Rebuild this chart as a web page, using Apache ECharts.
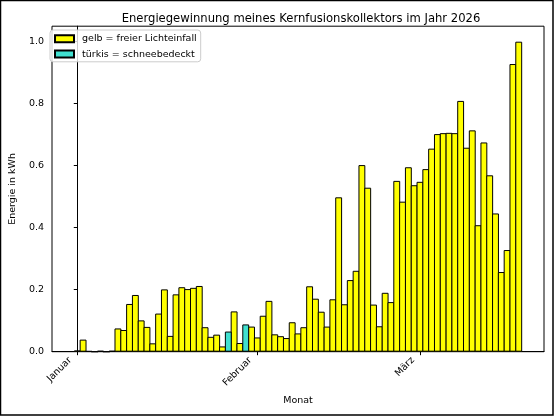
<!DOCTYPE html>
<html>
<head>
<meta charset="utf-8">
<script src="https://cdn.jsdelivr.net/npm/echarts@6/dist/echarts.min.js"></script>
<style>
  html, body { margin: 0; padding: 0; background: #fff; }
  #chart { width: 554px; height: 416px; }
</style>
</head>
<body>
<div id="chart"></div>
<script>
// daily yield, 1 Jan .. 18 Mar 2026 (index 0 = 1 Jan)
const energy = [
  0.004, 0.039, 0.002, 0.000, 0.003, 0.000, 0.003, 0.075, 0.070, 0.154,
  0.183, 0.101, 0.080, 0.027, 0.123, 0.201, 0.051, 0.185, 0.208, 0.202,
  0.206, 0.212, 0.079, 0.048, 0.055, 0.017, 0.065, 0.130, 0.028, 0.088,
  0.081, 0.046, 0.116, 0.164, 0.056, 0.050, 0.044, 0.095, 0.059, 0.079,
  0.211, 0.171, 0.129, 0.081, 0.169, 0.498, 0.153, 0.231, 0.261, 0.602,
  0.529, 0.152, 0.082, 0.190, 0.160, 0.551, 0.484, 0.595, 0.537, 0.548,
  0.589, 0.655, 0.702, 0.705, 0.706, 0.705, 0.809, 0.658, 0.714, 0.408,
  0.675, 0.569, 0.446, 0.257, 0.328, 0.928, 1.000
]
// days on which the collector was covered in snow
const snowDays = [26, 29]
const monthTicks = [0, 31, 59]
const monthLabels = ['Januar', 'Februar', 'März']
const yTicks = [0, 0.2, 0.4, 0.6, 0.8, 1.0]

const font = 'DejaVu Sans'

const freeData = []
const snowData = []
energy.forEach((v, i) => {
  if (snowDays.includes(i)) snowData.push([i, v])
  else freeData.push([i, v])
})

const chart = echarts.init(document.getElementById('chart'), null, { renderer: 'canvas' })

// echarts draws the bar border inside the bar, so widen by the border
// width to get one shared edge between neighbouring days
const barStyle = {
  type: 'bar',
  stack: 'day',
  barWidth: '100%',
  barMinWidth: 6.88
}

chart.setOption({
  animation: false,
  backgroundColor: '#fff',
  textStyle: { fontFamily: font },
  title: {
    text: 'Energiegewinnung meines Kernfusionskollektors im Jahr 2026',
    left: 296,
    textAlign: 'center',
    top: 8,
    textStyle: { fontFamily: font, fontSize: 11.6, fontWeight: 'normal', color: '#000' }
  },
  legend: {
    orient: 'vertical',
    left: 50,
    top: 30,
    padding: [3, 4, 2, 4],
    itemGap: 3.8,
    itemWidth: 19,
    itemHeight: 7,
    icon: 'rect',
    borderColor: '#cccccc',
    borderWidth: 1,
    borderRadius: 3,
    backgroundColor: 'rgba(255,255,255,0.8)',
    textStyle: { fontFamily: font, fontSize: 9.5, color: '#000', lineHeight: 11.5, padding: [0, 0, 0, 3] },
    data: ['gelb = freier Lichteinfall', 'türkis = schneebedeckt']
  },
  grid: {
    left: 45.7,
    right: 10,
    top: 26.2,
    bottom: 64.3,
    show: true,
    borderColor: '#000',
    borderWidth: 1,
    backgroundColor: 'transparent'
  },
  xAxis: {
    type: 'value',
    min: -4.35,
    max: 80.35,
    name: 'Monat',
    nameLocation: 'middle',
    nameGap: 42,
    nameTextStyle: { fontFamily: font, fontSize: 9.5, color: '#000' },
    splitLine: { show: false },
    axisLine: { show: true, lineStyle: { color: '#000', width: 1 } },
    axisTick: { show: true, length: 3.5, customValues: monthTicks, lineStyle: { color: '#000' } },
    axisLabel: {
      customValues: monthTicks,
      rotate: 45,
      margin: 0,
      padding: [0, 10, 0, 0],
      fontFamily: font,
      fontSize: 9.5,
      color: '#000',
      formatter: v => monthLabels[monthTicks.indexOf(v)] || ''
    }
  },
  yAxis: {
    type: 'value',
    min: 0,
    max: 1.05,
    name: 'Energie in kWh',
    nameLocation: 'middle',
    nameGap: 28,
    nameRotate: 90,
    nameTextStyle: { fontFamily: font, fontSize: 9.5, color: '#000' },
    splitLine: { show: false },
    axisLine: { show: true, lineStyle: { color: '#000', width: 1 } },
    axisTick: { show: true, length: 3.5, customValues: yTicks, lineStyle: { color: '#000' } },
    axisLabel: {
      customValues: yTicks,
      margin: 8,
      fontFamily: font,
      fontSize: 9.5,
      color: '#000',
      formatter: v => v.toFixed(1)
    }
  },
  series: [
    Object.assign({}, barStyle, {
      name: 'gelb = freier Lichteinfall',
      data: freeData,
      itemStyle: { color: '#ffff00', borderColor: '#000', borderWidth: 1 }
    }),
    Object.assign({}, barStyle, {
      name: 'türkis = schneebedeckt',
      data: snowData,
      itemStyle: { color: '#40e0d0', borderColor: '#000', borderWidth: 1 }
    })
  ],
  graphic: [{
    type: 'rect',
    silent: true,
    z: 100,
    shape: { x: 0.5, y: 0.5, width: 552.5, height: 414.5 },
    style: { fill: null, stroke: '#000', lineWidth: 1.5 }
  }]
})
</script>
</body>
</html>
